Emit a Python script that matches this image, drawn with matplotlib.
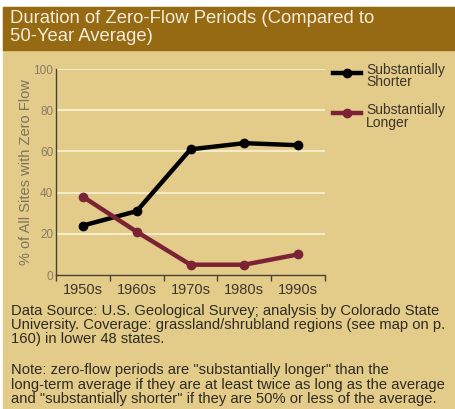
import matplotlib
matplotlib.use("Agg")
import matplotlib.pyplot as plt
from matplotlib.patches import Rectangle

plt.rcParams['font.family'] = ['Liberation Sans', 'DejaVu Sans']

decades = ["1950s", "1960s", "1970s", "1980s", "1990s"]
shorter = [24, 31, 61, 64, 63]
longer = [38, 21, 5, 5, 10]
yticks = [0, 20, 40, 60, 80, 100]

W, H = 456, 409
tan = "#e3cc8a"
band = "#956a12"

fig = plt.figure(figsize=(W / 100, H / 100), dpi=100)
fig.patch.set_facecolor("white")

# background panels (pixel coords converted to figure fraction)
def px(x, y, w, h):
    return (x / W, 1 - (y + h) / H, w / W, h / H)

x0, y0, w0, h0 = px(3, 7, 453, 402)
fig.add_artist(Rectangle((x0, y0), w0, h0, transform=fig.transFigure, color=tan, zorder=0))
x0, y0, w0, h0 = px(3, 7, 453, 43)
fig.add_artist(Rectangle((x0, y0), w0, h0, transform=fig.transFigure, color=band, zorder=0))

fig.text(10 / W, 1 - 10 / H, "Duration of Zero-Flow Periods (Compared to\n50-Year Average)",
         color="#f4ecd8", fontsize=13.3, va="top", ha="left", linespacing=1.05)

ax = fig.add_axes(px(56, 69, 269, 206))
ax.set_facecolor("none")
x = list(range(len(decades)))
ax.plot(x, shorter, color="black", lw=3.2, marker="o", ms=6, label="Substantially\nShorter",
        solid_joinstyle="round", zorder=3)
ax.plot(x, longer, color="#7b2334", lw=3.2, marker="o", ms=6, label="Substantially\nLonger",
        solid_joinstyle="round", zorder=3)

ax.set_xlim(-0.5, len(decades) - 0.5)
ax.set_ylim(0, 100)
ax.set_yticks(yticks)
ax.set_yticklabels([str(v) for v in yticks])
ax.set_xticks(x)
ax.set_xticklabels(decades)
ax.set_xticks([i - 0.5 for i in range(len(decades) + 1)], minor=True)
ax.tick_params(axis="x", which="major", length=0, pad=6, labelsize=10.5, labelcolor="#3e3529")
ax.tick_params(axis="x", which="minor", length=4, width=1, color="#4a4030", direction="out")
ax.tick_params(axis="y", length=0, pad=2, labelsize=8.5, labelcolor="#8a7c62")
for v in yticks[1:]:
    ax.axhline(v, color="#f4ecc8", lw=1.5, zorder=1)
for s in ["top", "right"]:
    ax.spines[s].set_visible(False)
for s in ["left", "bottom"]:
    ax.spines[s].set_color("#4a4030")
    ax.spines[s].set_linewidth(1)
ax.set_ylabel("% of All Sites with Zero Flow", color="#7e725a", fontsize=10.5, labelpad=0)

leg = ax.legend(loc="upper left", bbox_to_anchor=(1.0, 1.07), frameon=False, fontsize=10,
                handlelength=2.0, handletextpad=0.35, labelspacing=1.0, borderaxespad=0.2)
for t in leg.get_texts():
    t.set_color("#3c3428")
    t.set_linespacing(0.85)
# lift the handles so they sit beside the first line of each label
for h in leg.legend_handles:
    h.set_ydata([v + 3 for v in h.get_ydata()])

fig.text(11 / W, 1 - 304 / H,
         "Data Source: U.S. Geological Survey; analysis by Colorado State\n"
         "University. Coverage: grassland/shrubland regions (see map on p.\n"
         "160) in lower 48 states.",
         color="#2e2a22", fontsize=10.6, va="top", ha="left", linespacing=1.02)
fig.text(11 / W, 1 - 363 / H,
         "Note: zero-flow periods are \"substantially longer\" than the\n"
         "long-term average if they are at least twice as long as the average\n"
         "and \"substantially shorter\" if they are 50% or less of the average.",
         color="#2e2a22", fontsize=10.6, va="top", ha="left", linespacing=1.05)

fig.savefig("out.png", dpi=100, facecolor=fig.get_facecolor())
